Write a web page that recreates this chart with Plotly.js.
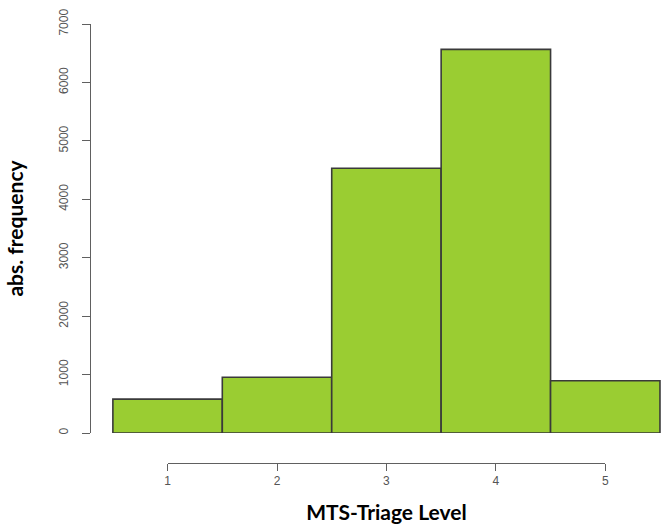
<!DOCTYPE html>
<html><head><meta charset="utf-8">
<script src="https://cdn.plot.ly/plotly-3.0.1.min.js"></script>
<style>html,body{margin:0;padding:0;background:#fff}#chart{width:666px;height:529px}</style>
</head><body><div id="chart"></div>
<script>
const levels = [1, 2, 3, 4, 5];
const frequencies = [580, 955, 4530, 6565, 895];
const yTicks = [0, 1000, 2000, 3000, 4000, 5000, 6000, 7000];
const xTickLabels = ['1', '2', '3', '4', '5'];

const xMin = 0.3, xMax = 5.555;
const span = xMax - xMin;

const data = [
  {type: 'bar', x: levels, y: frequencies, width: 1, xaxis: 'x', yaxis: 'y',
   marker: {color: '#9ACD32', line: {color: '#3a3a3a', width: 1.6}}, showlegend: false},
  {type: 'scatter', mode: 'markers', x: [], y: [], xaxis: 'x2', yaxis: 'y2', showlegend: false}
];

const axisGrey = '#606060';
const layout = {
  width: 666, height: 529,
  margin: {l: 91, r: 0, t: 24, b: 66},
  paper_bgcolor: '#fff', plot_bgcolor: 'rgba(0,0,0,0)',
  showlegend: false, bargap: 0,
  xaxis: {domain: [0, 1], range: [xMin, xMax], visible: false, anchor: 'y', fixedrange: true},
  yaxis: {domain: [30 / 439, 1], range: [0, 7000], anchor: 'x', showline: true, linecolor: axisGrey, linewidth: 1,
    ticks: 'outside', ticklen: 8, tickcolor: axisGrey, tickwidth: 1, tickvals: yTicks, tickangle: -90,
    tickfont: {family: 'Liberation Sans, Arial, sans-serif', size: 12, color: '#555'},
    showgrid: false, zeroline: false, ticklabelstandoff: 9,
    title: {text: 'abs. frequency', font: {family: 'Lato, sans-serif', size: 21, color: '#000', weight: 'bold'}, standoff: 27}},
  xaxis2: {domain: [(1 - xMin) / span, (5 - xMin) / span], range: [1, 5], anchor: 'y2', showline: true,
    linecolor: axisGrey, linewidth: 1, ticks: 'outside', ticklen: 7, tickcolor: axisGrey, tickwidth: 1,
    tickvals: levels, ticktext: xTickLabels, showgrid: false, zeroline: false,
    tickfont: {family: 'Liberation Sans, Arial, sans-serif', size: 12, color: '#555'},
    title: {text: 'MTS-Triage Level', font: {family: 'Lato, sans-serif', size: 21, color: '#000', weight: 'bold'}, standoff: 17}},
  yaxis2: {domain: [0, 0.01], visible: false, anchor: 'x2'}
};

Plotly.newPlot('chart', data, layout, {displayModeBar: false, staticPlot: true});
</script>
</body></html>
